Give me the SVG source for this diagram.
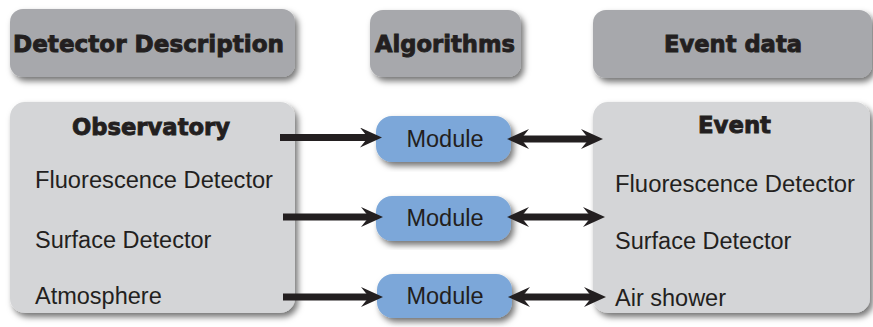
<svg xmlns="http://www.w3.org/2000/svg" width="873" height="327" viewBox="0 0 873 327">
<style>
.hdr{fill:#a7a8ac}
.body{fill:#d4d5d7}
.mod{fill:#7ba7d9}
.ht{font-family:"DejaVu Sans","Liberation Sans",sans-serif;font-weight:bold;font-size:23px;fill:#231f20;stroke:#231f20;stroke-width:0.9}
.t{font-family:"Liberation Sans",Arial,sans-serif;font-size:23.5px;fill:#231f20}
.mt{font-family:"Liberation Sans",Arial,sans-serif;font-size:23.5px;fill:#231f20;text-anchor:middle}
.c{stroke:#231f20;stroke-width:7;fill:none}
</style>
<defs>
<filter id="sh" x="-10%" y="-10%" width="125%" height="130%">
<feDropShadow dx="3" dy="4" stdDeviation="3" flood-color="#000" flood-opacity="0.55"/>
</filter>
<marker id="ah" viewBox="0 0 22 20" refX="10" refY="10" markerWidth="22" markerHeight="20" markerUnits="userSpaceOnUse" orient="auto-start-reverse">
<path d="M0,0 L22,10 L0,20 L8,10 Z" fill="#231f20"/>
</marker>
</defs>
<rect width="873" height="327" fill="#ffffff"/>
<g id="hdr-detector">
<rect class="hdr" x="10" y="9" width="285" height="68" rx="13" filter="url(#sh)"/>
<text class="ht" x="13" y="52" textLength="271" lengthAdjust="spacingAndGlyphs">Detector Description</text>
</g>
<g id="hdr-algorithms">
<rect class="hdr" x="370" y="10" width="151" height="67" rx="13" filter="url(#sh)"/>
<text class="ht" x="375" y="52" textLength="140" lengthAdjust="spacingAndGlyphs">Algorithms</text>
</g>
<g id="hdr-event">
<rect class="hdr" x="593" y="10" width="279" height="68" rx="13" filter="url(#sh)"/>
<text class="ht" x="664" y="52" textLength="138" lengthAdjust="spacingAndGlyphs">Event data</text>
</g>
<g id="observatory">
<rect class="body" x="10" y="102" width="285" height="211" rx="15" filter="url(#sh)"/>
<text class="ht" x="72" y="135" textLength="158" lengthAdjust="spacingAndGlyphs">Observatory</text>
<text class="t" x="35" y="188" textLength="238" lengthAdjust="spacingAndGlyphs">Fluorescence Detector</text>
<text class="t" x="35" y="248">Surface Detector</text>
<text class="t" x="35" y="304">Atmosphere</text>
</g>
<g id="event">
<rect class="body" x="593" y="102" width="277" height="211" rx="15" filter="url(#sh)"/>
<text class="ht" x="698" y="133" textLength="73" lengthAdjust="spacingAndGlyphs">Event</text>
<text class="t" x="615" y="192" textLength="240" lengthAdjust="spacingAndGlyphs">Fluorescence Detector</text>
<text class="t" x="615" y="249">Surface Detector</text>
<text class="t" x="615" y="306">Air shower</text>
</g>
<g id="module1">
<rect class="mod" x="376" y="116" width="135" height="46" rx="16" filter="url(#sh)"/>
<text class="mt" x="445" y="147">Module</text>
</g>
<g id="module2">
<rect class="mod" x="376" y="196" width="135" height="45" rx="16" filter="url(#sh)"/>
<text class="mt" x="445" y="226">Module</text>
</g>
<g id="module3">
<rect class="mod" x="377" y="274" width="135" height="44" rx="16" filter="url(#sh)"/>
<text class="mt" x="445" y="304">Module</text>
</g>
<g id="connectors">
<path class="c" d="M280,137.5 H370" marker-end="url(#ah)"/>
<path class="c" d="M283,217 H371" marker-end="url(#ah)"/>
<path class="c" d="M283,297 H371" marker-end="url(#ah)"/>
<path class="c" d="M519,139 H591" marker-start="url(#ah)" marker-end="url(#ah)"/>
<path class="c" d="M519,217 H593" marker-start="url(#ah)" marker-end="url(#ah)"/>
<path class="c" d="M520,297 H594" marker-start="url(#ah)" marker-end="url(#ah)"/>
</g>
</svg>
